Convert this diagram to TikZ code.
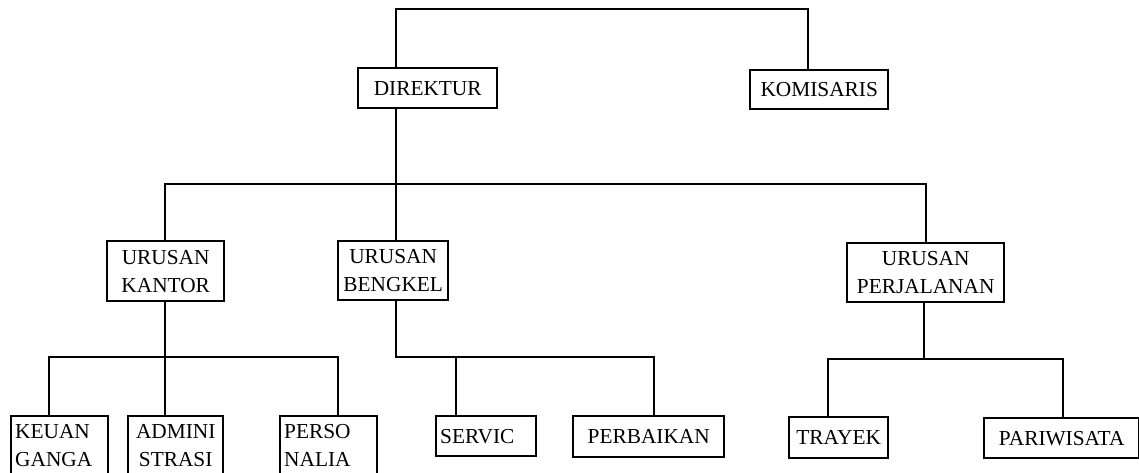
\documentclass[tikz,border=0pt]{standalone}
\usepackage{fontspec}
\setmainfont{Liberation Serif}
\begin{document}
\begin{tikzpicture}[x=0.75pt,y=-0.75pt,
  bx/.style={draw, line width=1.8pt, anchor=north west, inner xsep=3pt, inner ysep=0pt,
    font=\fontsize{16}{21}\selectfont},
  ln/.style={line width=1.8pt}]
\path[use as bounding box] (0,0) rectangle (1139,472);
\clip (0,0) rectangle (1139,472);
% top level
\node[bx, text width=98.25pt, minimum height=30pt, align=center] (dir) at (357,67) {DIREKTUR};
\node[bx, text width=97.5pt, minimum height=29.25pt, align=center] (kom) at (749,69) {KOMISARIS};
% second level
\node[bx, text width=81.75pt, minimum height=45pt, align=center] (kan) at (106,240) {URUSAN\\KANTOR};
\node[bx, text width=76.5pt, minimum height=44.25pt, align=center] (ben) at (337,240) {URUSAN\\BENGKEL};
\node[bx, text width=111.75pt, minimum height=44.25pt, align=center] (per) at (846,242) {URUSAN\\PERJALANAN};
% third level (bottom edges run past the picture's lower border)
\node[bx, text width=66.75pt, minimum height=44pt, align=left] (keu) at (10,415) {KEUAN\\GANGA};
\node[bx, text width=65.25pt, minimum height=44pt, align=center] (adm) at (127,415) {ADMINI\\STRASI};
\node[bx, text width=66.75pt, minimum height=44pt, align=left] (pers) at (279,415) {PERSO\\NALIA};
\node[bx, text width=69pt, minimum height=30pt, align=left] (serv) at (435,415) {SERVIC};
\node[bx, text width=107.25pt, minimum height=30.75pt, align=center] (perb) at (572,415) {PERBAIKAN};
\node[bx, text width=68.25pt, minimum height=30.75pt, align=center] (tra) at (788,416) {TRAYEK};
\node[bx, text width=110.25pt, minimum height=30pt, align=center] (par) at (983,417) {PARIWISATA};
% junction coordinates
\coordinate (tL) at (396,9);
\coordinate (tR) at (808,9);
\coordinate (m) at (396,184);
\coordinate (k1) at (49,357);
\coordinate (k2) at (165,357);
\coordinate (k3) at (338,357);
\coordinate (b1) at (396,357);
\coordinate (b2) at (456,357);
\coordinate (b3) at (654,357);
\coordinate (p1) at (828,359);
\coordinate (p2) at (924,359);
\coordinate (p3) at (1063,359);
% connectors
\draw[ln] (tL |- dir.north) -- (tL) -- (tR) -- (tR |- kom.north);
\draw[ln] (m |- dir.south) -- (m |- ben.north);
\draw[ln] (kan.north -| k2) |- (m) -| (per.north);
\draw[ln] (k2 |- kan.south) -- (k2 |- adm.north);
\draw[ln] (k1 |- keu.north) -- (k1) -- (k3) -- (k3 |- pers.north);
\draw[ln] (b1 |- ben.south) -- (b1) -- (b3) -- (b3 |- perb.north);
\draw[ln] (b2) -- (b2 |- serv.north);
\draw[ln] (p2 |- per.south) -- (p2);
\draw[ln] (p1 |- tra.north) -- (p1) -- (p3) -- (p3 |- par.north);
\end{tikzpicture}
\end{document}
